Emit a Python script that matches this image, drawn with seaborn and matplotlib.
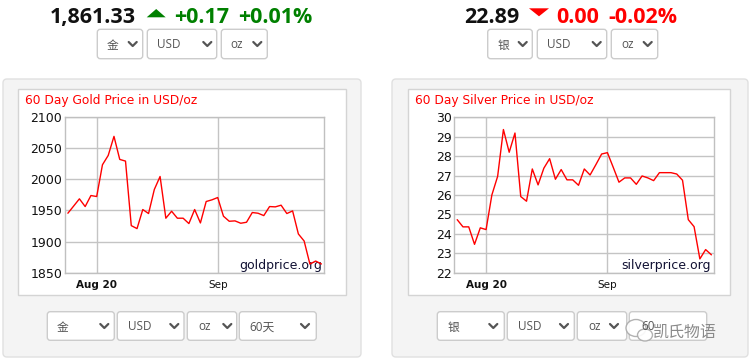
import matplotlib
matplotlib.use('Agg')
import matplotlib.pyplot as plt
import seaborn as sns
import pandas as pd
from matplotlib.patches import FancyBboxPatch, Rectangle, Polygon, Ellipse

# ---------------- data ----------------
day_index = list(range(45))
gold_prices = [1945.5, 1957.0, 1968.6, 1956.2, 1973.9, 1972.3, 2023.3, 2038.3, 2068.9, 2031.9,
               2029.2, 1925.6, 1920.8, 1951.4, 1945.0, 1983.6, 2004.5, 1937.5, 1948.7, 1937.5,
               1937.5, 1928.9, 1951.4, 1929.9, 1964.3, 1967.0, 1970.7, 1940.7, 1932.6, 1933.2,
               1929.4, 1931.0, 1946.6, 1945.5, 1941.7, 1956.2, 1955.7, 1958.4, 1945.0, 1949.2,
               1912.2, 1900.9, 1863.9, 1868.7, 1864.0]
silver_prices = [24.73, 24.36, 24.36, 23.46, 24.31, 24.22, 26.00, 26.96, 29.37, 28.20,
                 29.19, 25.92, 25.68, 27.34, 26.52, 27.38, 27.87, 26.81, 27.31, 26.78,
                 26.78, 26.50, 27.34, 27.03, 27.56, 28.11, 28.18, 27.43, 26.66, 26.88,
                 26.88, 26.55, 26.98, 26.88, 26.74, 27.15, 27.15, 27.15, 27.08, 26.76,
                 24.73, 24.37, 22.71, 23.19, 22.92]
x_tick_positions = [5, 26]
x_tick_labels = ['Aug 20', 'Sep']
gold_yticks = [1850, 1900, 1950, 2000, 2050, 2100]
silver_yticks = [22, 23, 24, 25, 26, 27, 28, 29, 30]

gold_df = pd.DataFrame({'day': day_index, 'price': gold_prices})
silver_df = pd.DataFrame({'day': day_index, 'price': silver_prices})

# ---------------- style ----------------
sns.set_style('white')
plt.rcParams['font.family'] = ['DejaVu Sans', 'Noto Sans CJK SC']
UI = ['Open Sans', 'Noto Sans CJK SC', 'DejaVu Sans']
CJK = ['Noto Sans CJK SC', 'DejaVu Sans']

fig = plt.figure(figsize=(7.5, 3.62), dpi=100)
fig.patch.set_facecolor('white')
bg = fig.add_axes([0, 0, 1, 1], zorder=0)
bg.set_xlim(0, 750)
bg.set_ylim(362, 0)
bg.axis('off')

# panels
for x0, w in [(3, 358), (392, 356)]:
    bg.add_patch(FancyBboxPatch((x0, 79), w, 278, boxstyle='round,pad=0,rounding_size=4',
                                fc='#f4f4f4', ec='#e0e0e0', lw=1))
bg.add_patch(Rectangle((18.3, 89), 327.4, 205.7, fc='white', ec='#d4d4d4', lw=1))
bg.add_patch(Rectangle((408, 89), 322, 205.7, fc='white', ec='#d4d4d4', lw=1))


def dropdown(x0, x1, y0, y1, label, tx, cx, cjk=False):
    bg.add_patch(FancyBboxPatch((x0, y0), x1 - x0, y1 - y0,
                                boxstyle='round,pad=0,rounding_size=3',
                                fc='white', ec='#cccccc', lw=1))
    cy = (y0 + y1) / 2
    bg.text(tx, cy + 4.3 + (0.8 if cjk else 0), label, fontsize=8.5, color='#555555',
            family=CJK if cjk else UI, ha='left', va='baseline')
    if cx is not None:
        bg.plot([cx - 4, cx, cx + 4], [cy - 2, cy + 2, cy - 2], color='#555555', lw=1.6,
                solid_capstyle='round', solid_joinstyle='round')


# header dropdowns
dropdown(97.3, 142.7, 29.3, 58.7, '金', 106.7, 132.7, cjk=True)
dropdown(147.3, 216.7, 29.3, 58.7, 'USD', 157.3, 207.3)
dropdown(221.3, 267.3, 29.3, 58.7, 'oz', 230.7, 257.3)
dropdown(487.7, 532.3, 29.3, 58.7, '银', 497.7, 522.7, cjk=True)
dropdown(537.3, 606.7, 29.3, 58.7, 'USD', 547.3, 596.7)
dropdown(611.3, 657.7, 29.3, 58.7, 'oz', 621.0, 647.7)

# bottom dropdowns
dropdown(47.3, 114.3, 311.7, 340.3, '金', 56.7, 104.3, cjk=True)
dropdown(117.3, 184.0, 311.7, 340.3, 'USD', 127.7, 174.3)
dropdown(187.3, 236.7, 311.7, 340.3, 'oz', 198.3, 227.3)
dropdown(239.3, 316.3, 311.7, 340.3, '60天', 249.3, 305.0)
dropdown(437.3, 504.3, 311.7, 340.3, '银', 447.7, 493.3, cjk=True)
dropdown(507.3, 574.3, 311.7, 340.3, 'USD', 517.7, 564.0)
dropdown(577.3, 626.7, 311.7, 340.3, 'oz', 588.3, 614.0)
dropdown(629.3, 706.7, 311.7, 340.3, '60', 641.0, None)

# watermark
bg.add_patch(Ellipse((636, 328), 20, 17, fc='white', ec='#aaaaaa', lw=1, alpha=0.9))
bg.add_patch(Ellipse((645, 335), 15, 12, fc='white', ec='#aaaaaa', lw=1, alpha=0.9))
bg.text(653, 337, '凯氏物语', fontsize=11.5, color='#8a8a8a', family=CJK, ha='left', va='baseline')

# header prices
HDR = ['Open Sans', 'DejaVu Sans']
bg.text(50, 22.7, '1,861.33', fontsize=15.5, weight='bold', color='#111111', family=HDR,
        ha='left', va='baseline')
bg.add_patch(Polygon([[146.7, 17.3], [165.7, 17.3], [156.2, 9.0]], closed=True, fc='#008000', ec='none'))
bg.text(174, 22.7, '+0.17', fontsize=15.5, weight='bold', color='#008000', family=HDR,
        ha='left', va='baseline')
bg.text(238.3, 22.7, '+0.01%', fontsize=15.5, weight='bold', color='#008000', family=HDR,
        ha='left', va='baseline')

bg.text(464.3, 22.7, '22.89', fontsize=15.5, weight='bold', color='#111111', family=HDR,
        ha='left', va='baseline')
bg.add_patch(Polygon([[529, 8.3], [549, 8.3], [539, 16.3]], closed=True, fc='#ff0000', ec='none'))
bg.text(556.7, 22.7, '0.00', fontsize=15.5, weight='bold', color='#ff0000', family=HDR,
        ha='left', va='baseline')
bg.text(608.3, 22.7, '-0.02%', fontsize=15.5, weight='bold', color='#ff0000', family=HDR,
        ha='left', va='baseline')

# chart titles
bg.text(25, 104.3, '60 Day Gold Price in USD/oz', fontsize=8.8, color='#ff0000',
        ha='left', va='baseline')
bg.text(415, 104.3, '60 Day Silver Price in USD/oz', fontsize=8.8, color='#ff0000',
        ha='left', va='baseline')

# ---------------- charts ----------------
W, H = 750.0, 362.0


def make_axes(left, right, top, bottom):
    return fig.add_axes([left / W, (H - bottom) / H, (right - left) / W, (bottom - top) / H], zorder=2)


def style_chart(ax, df, yticks, wm, wm_x):
    ax.set_facecolor('none')
    sns.lineplot(data=df, x='day', y='price', ax=ax, color='#ff0000', lw=1.0, zorder=3)
    ax.set_xlim(-0.5, 44.5)
    ax.set_ylim(yticks[0], yticks[-1])
    ax.set_yticks(yticks)
    ax.set_yticklabels([str(v) for v in yticks], fontsize=9, color='#111111')
    ax.set_xticks(x_tick_positions)
    ax.set_xticklabels(x_tick_labels, fontsize=7.5, color='#111111')
    ax.get_xticklabels()[0].set_fontweight('bold')
    ax.set_xlabel('')
    ax.set_ylabel('')
    ax.grid(True, color='#c4c4c4', lw=1)
    ax.set_axisbelow(True)
    for s in ax.spines.values():
        s.set_color('#c0c0c0')
        s.set_linewidth(1)
    ax.tick_params(axis='x', length=2.5, width=1, color='#c0c0c0', pad=2.5)
    ax.tick_params(axis='y', length=0, pad=2)
    ax.text(wm_x, 269.3, wm, transform=bg.transData, fontsize=9, color='#111133',
            ha='right', va='baseline', zorder=1)


ax_g = make_axes(65.0, 324.3, 117.0, 272.7)
style_chart(ax_g, gold_df, gold_yticks, 'goldprice.org', 321.7)
ax_s = make_axes(454.3, 714.3, 117.3, 272.7)
style_chart(ax_s, silver_df, silver_yticks, 'silverprice.org', 711.0)

fig.savefig('out.png', dpi=100, facecolor='white')
